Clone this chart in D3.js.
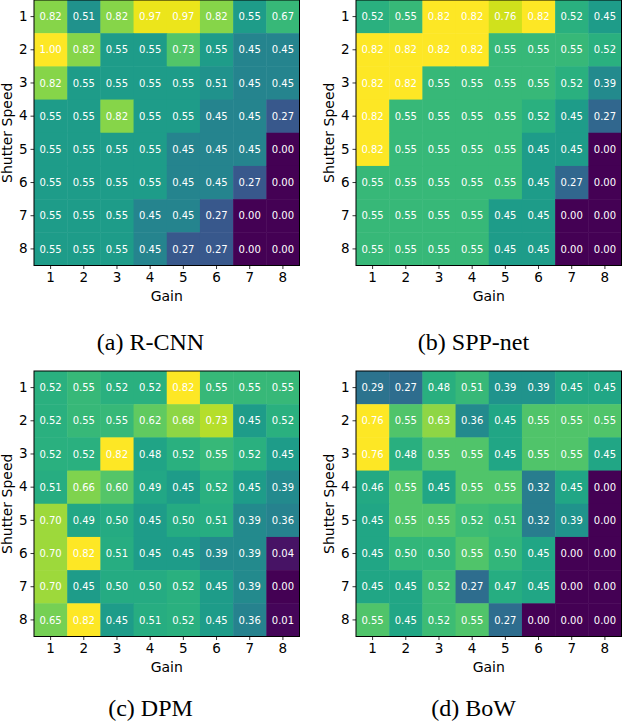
<!DOCTYPE html>
<html>
<head>
<meta charset="utf-8">
<script src="https://cdn.jsdelivr.net/npm/d3@7"></script>
<style>
  html, body { margin: 0; padding: 0; background: #fff; }
  svg { display: block; }
</style>
</head>
<body>
<svg id="chart" width="622" height="726"></svg>
<script>
// ---- data (rows = Shutter Speed 1..8, columns = Gain 1..8) ----
const gainTicks = [1, 2, 3, 4, 5, 6, 7, 8];
const shutterTicks = [1, 2, 3, 4, 5, 6, 7, 8];
const captions = ["(a) R-CNN", "(b) SPP-net", "(c) DPM", "(d) BoW"];
const xLabel = "Gain";
const yLabel = "Shutter Speed";

const rcnn = [
  [0.82, 0.51, 0.82, 0.97, 0.97, 0.82, 0.55, 0.67],
  [1.00, 0.82, 0.55, 0.55, 0.73, 0.55, 0.45, 0.45],
  [0.82, 0.55, 0.55, 0.55, 0.55, 0.51, 0.45, 0.45],
  [0.55, 0.55, 0.82, 0.55, 0.55, 0.45, 0.45, 0.27],
  [0.55, 0.55, 0.55, 0.55, 0.45, 0.45, 0.45, 0.00],
  [0.55, 0.55, 0.55, 0.55, 0.45, 0.45, 0.27, 0.00],
  [0.55, 0.55, 0.55, 0.45, 0.45, 0.27, 0.00, 0.00],
  [0.55, 0.55, 0.55, 0.45, 0.27, 0.27, 0.00, 0.00]
];
const sppnet = [
  [0.52, 0.55, 0.82, 0.82, 0.76, 0.82, 0.52, 0.45],
  [0.82, 0.82, 0.82, 0.82, 0.55, 0.55, 0.55, 0.52],
  [0.82, 0.82, 0.55, 0.55, 0.55, 0.55, 0.52, 0.39],
  [0.82, 0.55, 0.55, 0.55, 0.55, 0.52, 0.45, 0.27],
  [0.82, 0.55, 0.55, 0.55, 0.55, 0.45, 0.45, 0.00],
  [0.55, 0.55, 0.55, 0.55, 0.55, 0.45, 0.27, 0.00],
  [0.55, 0.55, 0.55, 0.55, 0.45, 0.45, 0.00, 0.00],
  [0.55, 0.55, 0.55, 0.55, 0.45, 0.45, 0.00, 0.00]
];
const dpm = [
  [0.52, 0.55, 0.52, 0.52, 0.82, 0.55, 0.55, 0.55],
  [0.52, 0.55, 0.55, 0.62, 0.68, 0.73, 0.45, 0.52],
  [0.52, 0.52, 0.82, 0.48, 0.52, 0.55, 0.52, 0.45],
  [0.51, 0.66, 0.60, 0.49, 0.45, 0.52, 0.45, 0.39],
  [0.70, 0.49, 0.50, 0.45, 0.50, 0.51, 0.39, 0.36],
  [0.70, 0.82, 0.51, 0.45, 0.45, 0.39, 0.39, 0.04],
  [0.70, 0.45, 0.50, 0.50, 0.52, 0.45, 0.39, 0.00],
  [0.65, 0.82, 0.45, 0.51, 0.52, 0.45, 0.36, 0.01]
];
const bow = [
  [0.29, 0.27, 0.48, 0.51, 0.39, 0.39, 0.45, 0.45],
  [0.76, 0.55, 0.63, 0.36, 0.45, 0.55, 0.55, 0.55],
  [0.76, 0.48, 0.55, 0.55, 0.45, 0.55, 0.55, 0.45],
  [0.46, 0.55, 0.45, 0.55, 0.55, 0.32, 0.45, 0.00],
  [0.45, 0.55, 0.55, 0.52, 0.51, 0.32, 0.39, 0.00],
  [0.45, 0.50, 0.50, 0.55, 0.50, 0.45, 0.00, 0.00],
  [0.45, 0.45, 0.52, 0.27, 0.47, 0.45, 0.00, 0.00],
  [0.55, 0.45, 0.52, 0.55, 0.27, 0.00, 0.00, 0.00]
];

// ---- layout ----
const panels = [
  { data: rcnn,   x0: 34,  y0: 0,   capX: 150.5, capY: 350 },
  { data: sppnet, x0: 356, y0: 0,   capX: 473.5, capY: 350 },
  { data: dpm,    x0: 34,  y0: 371, capX: 150.5, capY: 716 },
  { data: bow,    x0: 356, y0: 371, capX: 473.5, capY: 716 }
];
const size = 265.5;
const sans = "'DejaVu Sans', sans-serif";

const svg = d3.select("#chart");

panels.forEach((p, i) => {
  const g = svg.append("g").attr("transform", `translate(${p.x0},${p.y0})`);
  const x = d3.scaleBand().domain(gainTicks).range([0, size]);
  const y = d3.scaleBand().domain(shutterTicks).range([0, size]);
  const flat = p.data.flat();
  const color = d3.scaleSequential(d3.interpolateViridis)
    .domain([d3.min(flat), d3.max(flat)]);

  const cells = [];
  p.data.forEach((row, r) => row.forEach((v, c) => cells.push({ r: shutterTicks[r], c: gainTicks[c], v })));

  g.selectAll("rect.cell").data(cells).join("rect")
    .attr("class", "cell")
    .attr("x", d => x(d.c))
    .attr("y", d => y(d.r))
    .attr("width", x.bandwidth() + 0.5)
    .attr("height", y.bandwidth() + 0.5)
    .attr("fill", d => color(d.v));

  g.selectAll("text.val").data(cells).join("text")
    .attr("class", "val")
    .attr("x", d => x(d.c) + x.bandwidth() / 2)
    .attr("y", d => y(d.r) + y.bandwidth() / 2)
    .attr("dy", "0.36em")
    .attr("text-anchor", "middle")
    .attr("font-family", sans)
    .attr("font-size", 10)
    .attr("fill", "#fff")
    .text(d => d.v.toFixed(2));

  // frame
  g.append("rect")
    .attr("x", 0).attr("y", 0)
    .attr("width", size).attr("height", size)
    .attr("fill", "none")
    .attr("stroke", "#000")
    .attr("stroke-width", 1);

  const xAxis = g.append("g")
    .attr("transform", `translate(0,${size})`)
    .call(d3.axisBottom(x).tickSize(3.5).tickPadding(3));
  const yAxis = g.append("g")
    .call(d3.axisLeft(y).tickSize(3.5).tickPadding(3));
  [xAxis, yAxis].forEach(a => {
    a.select(".domain").remove();
    a.selectAll("text").attr("font-family", sans).attr("font-size", 13.5).attr("fill", "#000");
    a.selectAll("line").attr("stroke", "#000").attr("stroke-width", 0.8);
  });

  g.append("text")
    .attr("x", size / 2)
    .attr("y", size + 35)
    .attr("text-anchor", "middle")
    .attr("font-family", sans)
    .attr("font-size", 14)
    .text(xLabel);

  g.append("text")
    .attr("transform", `translate(-22,${size / 2}) rotate(-90)`)
    .attr("text-anchor", "middle")
    .attr("font-family", sans)
    .attr("font-size", 14)
    .text(yLabel);

  svg.append("text")
    .attr("x", p.capX)
    .attr("y", p.capY)
    .attr("text-anchor", "middle")
    .attr("font-family", "'Liberation Serif', 'Times New Roman', serif")
    .attr("font-size", 24)
    .attr("fill", "#000")
    .text(captions[i]);
});
</script>
</body>
</html>
